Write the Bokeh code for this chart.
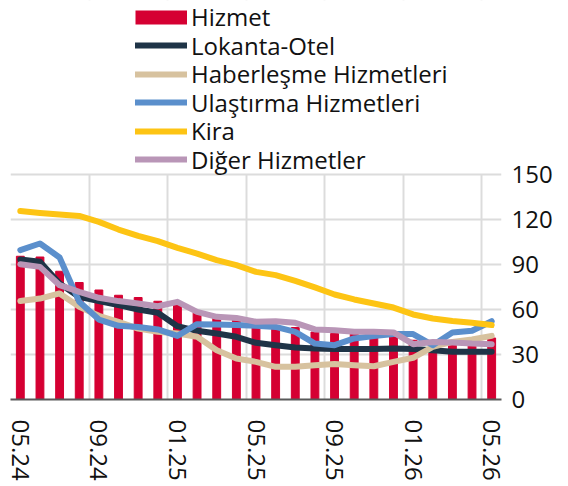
from bokeh.plotting import figure
from bokeh.models import (ColumnDataSource, FixedTicker, Range1d, Legend, LegendItem,
                          BoxAnnotation)
from bokeh.embed import file_html
from bokeh.resources import INLINE

months = ["05.24", "06.24", "07.24", "08.24", "09.24", "10.24", "11.24", "12.24",
          "01.25", "02.25", "03.25", "04.25", "05.25", "06.25", "07.25", "08.25",
          "09.25", "10.25", "11.25", "12.25", "01.26", "02.26", "03.26", "04.26", "05.26"]
tick_labels = ["05.24", "09.24", "01.25", "05.25", "09.25", "01.26", "05.26"]
y_ticks = [0, 30, 60, 90, 120, 150]

hizmet = [95.5, 95, 85.5, 78, 73, 69.5, 68, 65.5, 63, 58, 55, 53, 49.5, 48.5, 48, 45,
          44, 44, 44, 43, 39.5, 38.5, 37.5, 37, 41]
lokanta = [93.3, 91.8, 77.3, 68.4, 65.6, 62.9, 60, 57.8, 48.9, 45.8, 44, 41.8, 37.8, 36.2,
           34.7, 34, 33.6, 33.6, 33.6, 34, 33.6, 32.9, 31.8, 31.8, 31.8]
haberlesme = [65.6, 67.3, 70.7, 61.8, 55.8, 51.8, 47.3, 45.1, 44, 41.8, 32.9, 27.3, 25.1, 21.8,
              21.8, 22.9, 23.6, 22.9, 22.2, 25.1, 27.8, 35.1, 38.4, 40, 42.4]
ulastirma = [99.6, 104, 94.7, 65.1, 53.3, 49.1, 48.4, 46.7, 42.4, 50.2, 50, 49.6, 49.1, 48.4,
             45.1, 37.3, 36.2, 40.7, 42.4, 43.6, 43.6, 36.2, 44.7, 45.8, 52.2]
kira = [125.6, 124.4, 123.3, 122.4, 118.4, 113.3, 109.1, 105.6, 101.1, 97.3, 92.9, 89.6, 85.1,
        82.9, 79.1, 74.7, 70, 66.7, 64, 61.3, 56.7, 54, 52.4, 51.1, 49.6]
diger = [90.2, 88.4, 76.2, 71.8, 67.8, 65.6, 64, 62.2, 65.1, 58.4, 55.1, 54.4, 51.8, 52.2,
         51.1, 46.7, 46.2, 45.1, 45.1, 44.7, 36.9, 38.4, 38, 37.3, 36.9]

bar_label = "Hizmet"
bar_color = "#D50032"
series = [("Lokanta-Otel", "lokanta", "#1F3447"),
          ("Haberleşme Hizmetleri", "haberlesme", "#D7C29F"),
          ("Ulaştırma Hizmetleri", "ulastirma", "#5B8FCC"),
          ("Kira", "kira", "#FDC414"),
          ("Diğer Hizmetler", "diger", "#B996B7")]

idx = list(range(len(months)))
src = ColumnDataSource(dict(x=idx, hizmet=hizmet, lokanta=lokanta, haberlesme=haberlesme,
                            ulastirma=ulastirma, kira=kira, diger=diger))

FONT = "Open Sans"
FS = "24px"
TXT = "#111111"

W, H = 568, 486
BOTTOM = 87          # space for the x labels
PX_PER_UNIT = 1.5    # vertical scale of the chart
frame_h = H - BOTTOM
y_top = frame_h / PX_PER_UNIT   # frame extends above 150 to hold the legend

p = figure(width=W, height=H, output_backend="svg", toolbar_location=None,
           x_range=Range1d(-0.5, len(months) - 0.5), y_range=Range1d(0, y_top),
           y_axis_location="right", min_border_left=10, min_border_right=67,
           min_border_top=0, min_border_bottom=BOTTOM)
p.outline_line_color = None
p.extra_y_ranges = {"hidden": Range1d(1000, 1001)}

p.xgrid.ticker = FixedTicker(ticks=[i - 0.5 for i in range(0, len(months), 4)])
p.ygrid.ticker = FixedTicker(ticks=y_ticks)
for g in (p.xgrid, p.ygrid):
    g.grid_line_color = "#dcdcdc"
    g.grid_line_width = 2

# white mask above the chart area so the vertical grid stops at 150
mask = BoxAnnotation(bottom=y_ticks[-1], fill_color="white", fill_alpha=1,
                     line_alpha=0, level="underlay")

xa = p.xaxis[0]
xa.ticker = FixedTicker(ticks=[months.index(t) for t in tick_labels])
xa.major_label_overrides = {months.index(t): t for t in tick_labels}
xa.major_label_orientation = "vertical"
xa.major_tick_out = 0
xa.major_tick_in = 0
xa.minor_tick_out = 0
xa.minor_tick_in = 0
xa.axis_line_color = "#595959"
xa.axis_line_width = 2
xa.major_label_standoff = 20
xa.major_label_text_font = FONT
xa.major_label_text_font_size = FS
xa.major_label_text_color = TXT

ya = p.yaxis[0]
ya.ticker = FixedTicker(ticks=y_ticks)
ya.major_tick_out = 0
ya.major_tick_in = 0
ya.minor_tick_out = 0
ya.minor_tick_in = 0
ya.axis_line_color = None
ya.major_label_standoff = 10
ya.major_label_text_font = FONT
ya.major_label_text_font_size = FS
ya.major_label_text_color = TXT

p.vbar(x="x", top="hizmet", width=0.4, source=src, color=bar_color)
line_rs = []
for label, col, color in series:
    line_rs.append(p.line(x="x", y=col, source=src, line_width=6, color=color,
                          line_join="round", line_cap="round"))

# legend swatch for the bars (off-screen renderer, only used for the legend glyph)
swatch = p.line(x="x", y="hizmet", source=src, y_range_name="hidden",
                line_width=14, color=bar_color, line_cap="butt")

entries = [(bar_label, swatch)] + [(s[0], r) for s, r in zip(series, line_rs)]
BOX = 40
centers = [16.5, 45, 73.7, 102.2, 130.8, 159.3]   # row centres, px from top
legends = []
for (label, r), c in zip(entries, centers):
    leg = Legend(items=[LegendItem(label=label, renderers=[r])],
                 location=(125, frame_h - c - BOX / 2),
                 glyph_width=52, glyph_height=BOX, label_height=BOX,
                 label_standoff=4, padding=0, margin=0, spacing=0,
                 border_line_alpha=0, background_fill_alpha=0,
                 label_text_font=FONT, label_text_font_size=FS,
                 label_text_color=TXT)
    legends.append(leg)

p.center = [p.xgrid[0], mask, p.ygrid[0]] + legends

open("out.html", "w").write(file_html(p, INLINE))
